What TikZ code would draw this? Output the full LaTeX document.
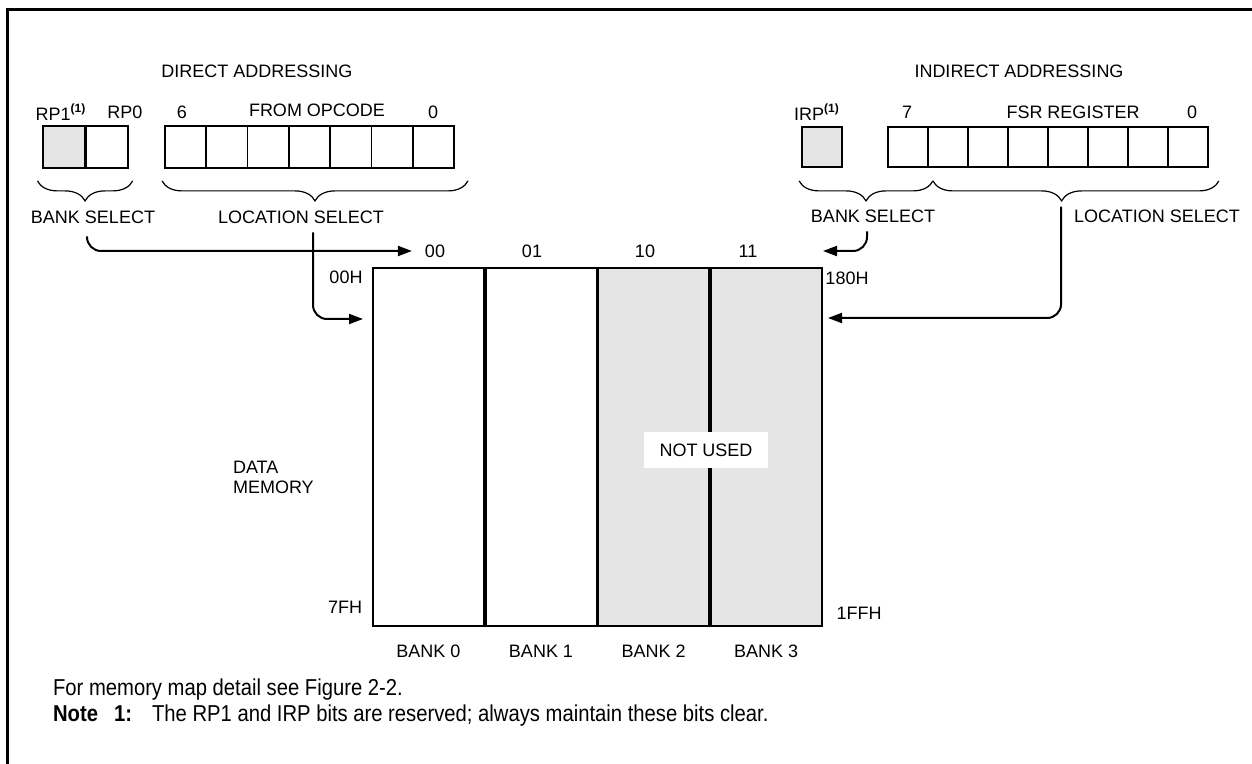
\documentclass[tikz,border=0pt]{standalone}
\usepackage{fontspec}
\setmainfont{Liberation Sans}
\newfontfamily\narrowfont[FakeStretch=0.88]{Liberation Sans}
\usetikzlibrary{arrows.meta,positioning,decorations.pathreplacing}

\begin{document}
\begin{tikzpicture}[x=0.5pt, y=-0.5pt,
      font=\fontsize{9}{11}\selectfont,
      bitbox/.style={draw, line width=0.9pt, minimum width=20.65pt, minimum height=21pt, inner sep=0pt},
      fsrbox/.style={bitbox, minimum width=20pt, minimum height=20pt},
      bankbox/.style={draw, line width=0.9pt, minimum width=55.4pt, minimum height=179pt, inner sep=0pt},
      unused/.style={fill=black!10},
      brc/.style={decorate, decoration={brace, mirror, amplitude=10pt}, line width=0.6pt},
      flow/.style={-{Triangle[length=7pt, width=5pt]}, line width=1pt, rounded corners=7pt},
      foot/.style={anchor=west, font=\narrowfont\fontsize{11.5}{13}\selectfont},
    ]
    \useasboundingbox (0,0) rectangle (1252,764);
    \draw[line width=1.5pt] (7,780) -- (7,10) -- (1270,10);

    % direct addressing
    \node (dirtitle) at (257,71) {DIRECT ADDRESSING};
    \node[bitbox, unused] (rp1) at (64,147) {};
    \node[bitbox, right=0pt of rp1] (rp0) {};
    \foreach \b [count=\i from 0] in {6,...,0}
      \node[bitbox] (op\b) at ({185.6+41.3*\i},147) {};
    \node (rp1l) at (61,112) {RP1\textsuperscript{\textbf{(1)}}};
    \node (rp0l) at (125,112) {RP0};
    \node (opmsb) at (182,112) {6};
    \node (opname) at (317,110) {FROM OPCODE};
    \node (oplsb) at (433,112) {0};
    \draw[brc] ([xshift=-2.5pt,yshift=-6pt]rp1.south west) -- ([xshift=2pt,yshift=-6pt]rp0.south east);
    \draw[brc] ([xshift=-1pt,yshift=-6pt]op6.south west) -- ([xshift=6.5pt,yshift=-6pt]op0.south east);
    \node (bsl) at (93,217) {BANK SELECT};
    \node (lsl) at (301,217) {LOCATION SELECT};

    % indirect addressing
    \node (indtitle) at (1019,71) {INDIRECT ADDRESSING};
    \node[fsrbox, unused] (irp) at (822,147) {};
    \foreach \b [count=\i from 0] in {7,...,0}
      \node[fsrbox] (fsr\b) at ({908+40*\i},147) {};
    \node (irpl) at (817,112) {IRP\textsuperscript{\textbf{(1)}}};
    \node (fsrmsb) at (907,112) {7};
    \node (fsrname) at (1073,112) {FSR REGISTER};
    \node (fsrlsb) at (1192,112) {0};
    \draw[brc] ([xshift=-1pt,yshift=-6.5pt]irp.south west) -- ([xshift=2pt,yshift=-6.5pt]fsr7.south east);
    \draw[brc, decoration={aspect=0.45}] ([xshift=2pt,yshift=-6.5pt]fsr7.south east) -- ([xshift=5pt,yshift=-6.5pt]fsr0.south east);
    \node (bsr) at (873,216) {BANK SELECT};
    \node (lsr) at (1157,216) {LOCATION SELECT};

    % data memory
    \node[bankbox] (bank0) at (428.4,447) {};
    \node[bankbox, right=0pt of bank0] (bank1) {};
    \node[bankbox, unused, right=0pt of bank1] (bank2) {};
    \node[bankbox, unused, right=0pt of bank2] (bank3) {};
    \foreach \k in {0,...,3}
      \node (bn\k) at ([yshift=-12pt]bank\k.south) {BANK \k};
    \node (c00) at (435,251) {00};
    \node (c01) at (532,251) {01};
    \node (c10) at (645,251) {10};
    \node (c11) at (748,251) {11};
    \node (a00) at (346,277) {00H};
    \node (a180) at (847,278) {180H};
    \node (a7f) at (345,607) {7FH};
    \node (a1ff) at (859,613) {1FFH};
    \node[align=left, anchor=west, font=\fontsize{9}{10}\selectfont] (dmem) at (226,477) {DATA\\MEMORY};
    \node[fill=white, minimum width=62pt, minimum height=18pt] (nu) at (706,450) {NOT USED};

    \coordinate (inL) at (363,319);
    \coordinate (inR) at (828,318);
    \coordinate (topR) at (823,251);
    \draw[flow] ([xshift=-3pt,yshift=-3pt]bsl.south) |- ([xshift=-3pt]c00.west);
    \draw[flow] ([xshift=6pt,yshift=-1pt]lsl.south) |- (inL);
    \draw[flow] ([xshift=-3pt,yshift=-1pt]bsr.south) |- (topR);
    \draw[flow] ([xshift=-3pt,yshift=-2pt]lsr.north west) |- (inR);

    \node[foot] (seefig) at (46,690) {For memory map detail see Figure 2-2.};
    \node[foot] (note) at (46,716) {\textbf{Note\hspace{8pt}1:}\hspace{10pt}The RP1 and IRP bits are reserved; always maintain these bits clear.};
  \end{tikzpicture}
\end{document}
